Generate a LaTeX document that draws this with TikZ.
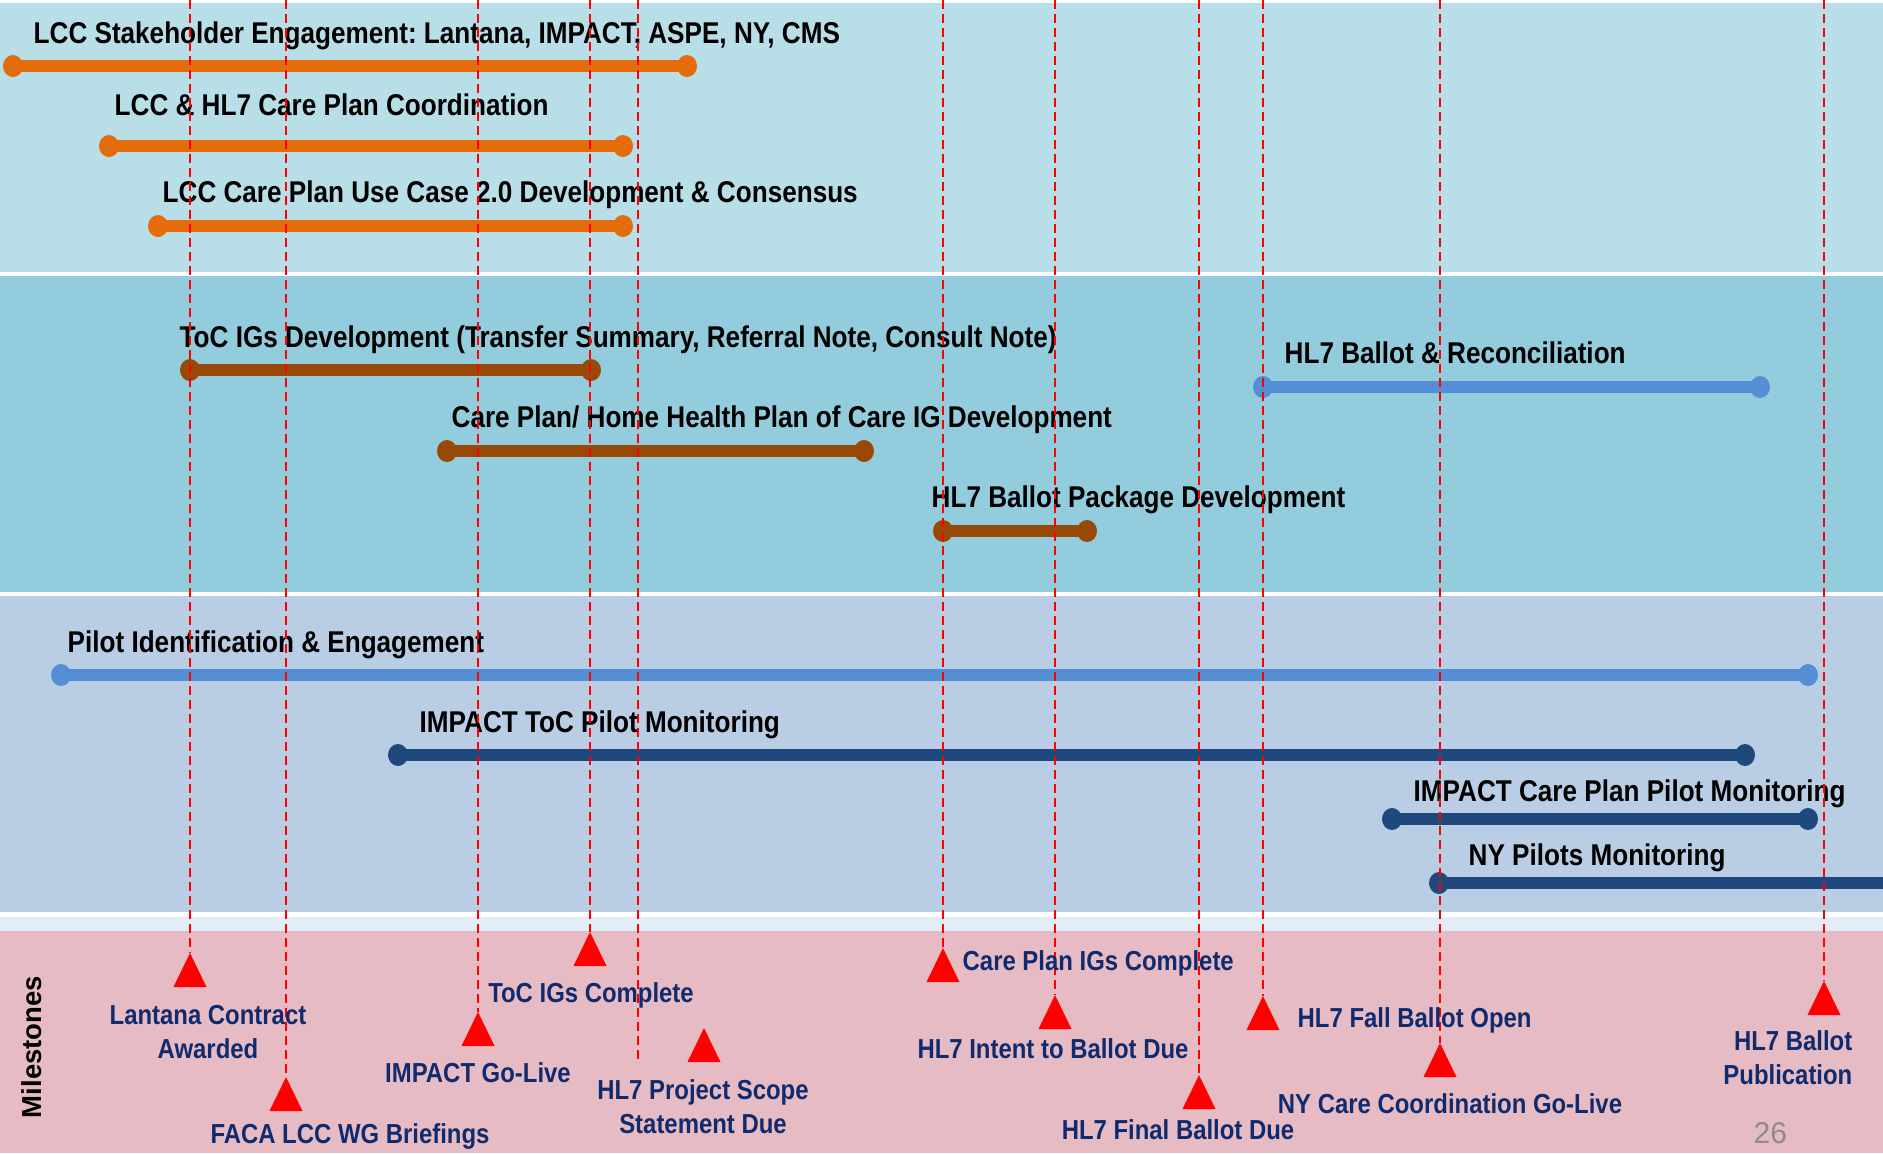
\documentclass[tikz,border=0pt]{standalone}
\usepackage{fontspec}
\setmainfont{Liberation Sans}
\newfontfamily\barfont[FakeStretch=0.87]{Liberation Sans}
\usetikzlibrary{shapes.geometric}
\frenchspacing

\definecolor{bandA}{HTML}{B8DEE7}
\definecolor{bandB}{HTML}{93CDDD}
\definecolor{bandC}{HTML}{B9CDE4}
\definecolor{bandD}{HTML}{E2EDF7}
\definecolor{bandE}{HTML}{E6BBC4}
\definecolor{barorange}{HTML}{E46C0A}
\definecolor{barbrown}{HTML}{984807}
\definecolor{barblue}{HTML}{558ED5}
\definecolor{barnavy}{HTML}{1F497D}
\definecolor{milenavy}{HTML}{102A6E}
\definecolor{pagegray}{HTML}{8C8C8C}

\begin{document}
\begin{tikzpicture}[
x=0.1mm, y=-0.1mm,
band/.style={fill=#1},
enddot/.style={ellipse, fill=#1, minimum width=2mm, minimum height=2.2mm, inner sep=0pt},
barline/.style={draw=#1, line width=1.15mm},
barlabel/.style={font=\barfont\bfseries\fontsize{8.54}{10}\selectfont, anchor=base west, inner sep=0pt},
milelabel/.style={font=\barfont\bfseries\fontsize{7.82}{9.67}\selectfont, text=milenavy, inner sep=0pt, align=center},
guide/.style={draw=red, line width=0.22mm, dash pattern=on 0.9mm off 0.5mm},
milemark/.style={fill=red}
]

\useasboundingbox (0,0) rectangle (1883,1153);
\clip (0,0) rectangle (1883,1153);
\fill[white] (0,0) rectangle (1883,1153);

\fill[band=bandA] (0,3) rectangle (1883,272);
\fill[band=bandB] (0,276) rectangle (1883,592);
\fill[band=bandC] (0,596) rectangle (1883,912);
\fill[band=bandD] (0,917) rectangle (1883,931);
\fill[band=bandE] (0,931) rectangle (1883,1153);

\node[enddot=barorange] (sh1) at (13,66) {};
\node[enddot=barorange] (sh2) at (687,66) {};
\node[barlabel] (shL) at (33,43) {LCC Stakeholder Engagement: Lantana, IMPACT, ASPE, NY, CMS};
\node[enddot=barorange] (co1) at (109,146) {};
\node[enddot=barorange] (co2) at (623,146) {};
\node[barlabel] (coL) at (114,115) {LCC \& HL7 Care Plan Coordination};
\node[enddot=barorange] (uc1) at (158,226) {};
\node[enddot=barorange] (uc2) at (623,226) {};
\node[barlabel] (ucL) at (162,202) {LCC Care Plan Use Case 2.0 Development \& Consensus};

\node[enddot=barbrown] (toc1) at (190,370) {};
\node[enddot=barbrown] (toc2) at (591,370) {};
\node[barlabel] (tocL) at (179,347) {ToC IGs Development (Transfer Summary, Referral Note, Consult Note)};
\node[enddot=barbrown] (hh1) at (447,451) {};
\node[enddot=barbrown] (hh2) at (864,451) {};
\node[barlabel] (hhL) at (451,427) {Care Plan/ Home Health Plan of Care IG Development};
\node[enddot=barbrown] (pk1) at (943,531) {};
\node[enddot=barbrown] (pk2) at (1087,531) {};
\node[barlabel] (pkL) at (931,507) {HL7 Ballot Package Development};
\node[enddot=barblue] (rc1) at (1263,387) {};
\node[enddot=barblue] (rc2) at (1760,387) {};
\node[barlabel] (rcL) at (1284,363) {HL7 Ballot \& Reconciliation};

\node[enddot=barblue] (pi1) at (61,675) {};
\node[enddot=barblue] (pi2) at (1808,675) {};
\node[barlabel] (piL) at (67,652) {Pilot Identification \& Engagement};
\node[enddot=barnavy] (itp1) at (398,755) {};
\node[enddot=barnavy] (itp2) at (1745,755) {};
\node[barlabel] (itpL) at (419,732) {IMPACT ToC Pilot Monitoring};
\node[enddot=barnavy] (icp1) at (1392,819) {};
\node[enddot=barnavy] (icp2) at (1808,819) {};
\node[barlabel] (icpL) at (1413,801) {IMPACT Care Plan Pilot Monitoring};
\node[enddot=barnavy] (ny1) at (1439,883) {};
\node[enddot=barnavy] (ny2) at (1891,883) {};
\node[barlabel] (nyL) at (1468,865) {NY Pilots Monitoring};

\draw[barline=barorange] (sh1.center) -- (sh2.center);
\draw[barline=barorange] (co1.center) -- (co2.center);
\draw[barline=barorange] (uc1.center) -- (uc2.center);
\draw[barline=barbrown] (toc1.center) -- (toc2.center);
\draw[barline=barbrown] (hh1.center) -- (hh2.center);
\draw[barline=barbrown] (pk1.center) -- (pk2.center);
\draw[barline=barblue] (rc1.center) -- (rc2.center);
\draw[barline=barblue] (pi1.center) -- (pi2.center);
\draw[barline=barnavy] (itp1.center) -- (itp2.center);
\draw[barline=barnavy] (icp1.center) -- (icp2.center);
\draw[barline=barnavy] (ny1.center) -- (ny2.center);

\coordinate (lanTop) at (190,0);
\coordinate (facaTop) at (286,0);
\coordinate (goTop) at (478,0);
\coordinate (tocTop) at (590,0);
\coordinate (scTop) at (638,0);
\coordinate (cpTop) at (943,0);
\coordinate (itbTop) at (1055,0);
\coordinate (finTop) at (1199,0);
\coordinate (fallTop) at (1263,0);
\coordinate (nyTop) at (1440,0);
\coordinate (pubTop) at (1824,0);

\coordinate (lan) at (190,953);
\coordinate (faca) at (286,1077);
\coordinate (go) at (478,1012);
\coordinate (toc) at (590,932);
\coordinate (scEnd) at (638,1060);
\coordinate (sc) at (704,1028);
\coordinate (cp) at (943,948);
\coordinate (itb) at (1055,995);
\coordinate (fin) at (1199,1075);
\coordinate (fall) at (1263,996);
\coordinate (ny) at (1440,1043);
\coordinate (pub) at (1824,981);

\draw[guide] (lanTop) -- (lan);
\draw[guide] (facaTop) -- (faca);
\draw[guide] (goTop) -- (go);
\draw[guide] (tocTop) -- (toc);
\draw[guide] (scTop) -- (scEnd);
\draw[guide] (cpTop) -- (cp);
\draw[guide] (itbTop) -- (itb);
\draw[guide] (finTop) -- (fin);
\draw[guide] (fallTop) -- (fall);
\draw[guide] (nyTop) -- (ny);
\draw[guide] (pubTop) -- (pub);

\fill[milemark] (lan) -- ++(-16.5,34) -- ++(33,0) -- cycle;
\fill[milemark] (faca) -- ++(-16.5,34) -- ++(33,0) -- cycle;
\fill[milemark] (go) -- ++(-16.5,34) -- ++(33,0) -- cycle;
\fill[milemark] (toc) -- ++(-16.5,34) -- ++(33,0) -- cycle;
\fill[milemark] (sc) -- ++(-16.5,34) -- ++(33,0) -- cycle;
\fill[milemark] (cp) -- ++(-16.5,34) -- ++(33,0) -- cycle;
\fill[milemark] (itb) -- ++(-16.5,34) -- ++(33,0) -- cycle;
\fill[milemark] (fin) -- ++(-16.5,34) -- ++(33,0) -- cycle;
\fill[milemark] (fall) -- ++(-16.5,34) -- ++(33,0) -- cycle;
\fill[milemark] (ny) -- ++(-16.5,34) -- ++(33,0) -- cycle;
\fill[milemark] (pub) -- ++(-16.5,34) -- ++(33,0) -- cycle;

\node[milelabel, anchor=north] (lanL) at (208,1005) {Lantana Contract\\Awarded};
\node[milelabel, anchor=base] (facaL) at (350,1143) {FACA LCC WG Briefings};
\node[milelabel, anchor=base] (goL) at (478,1082) {IMPACT Go-Live};
\node[milelabel, anchor=base] (tocL2) at (591,1002) {ToC IGs Complete};
\node[milelabel, anchor=north] (scL) at (703,1079) {HL7 Project Scope\\Statement Due};
\node[milelabel, anchor=base west] (cpL) at (962,970) {Care Plan IGs Complete};
\node[milelabel, anchor=base] (itbL) at (1053,1058) {HL7 Intent to Ballot Due};
\node[milelabel, anchor=base] (finL) at (1178,1139) {HL7 Final Ballot Due};
\node[milelabel, anchor=base west] (fallL) at (1297,1027) {HL7 Fall Ballot Open};
\node[milelabel, anchor=base] (nyL2) at (1450,1113) {NY Care Coordination Go-Live};
\node[milelabel, anchor=north east, align=right] (pubL) at (1853,1030) {HL7 Ballot\\Publication};

\node[rotate=90, inner sep=0pt, font=\bfseries\fontsize{7.82}{9}\selectfont] (mile) at (32,1047) {Milestones};
\node[anchor=base west, inner sep=0pt, text=pagegray, font=\fontsize{8.54}{10}\selectfont] (page) at (1753,1143) {26};

\end{tikzpicture}
\end{document}
